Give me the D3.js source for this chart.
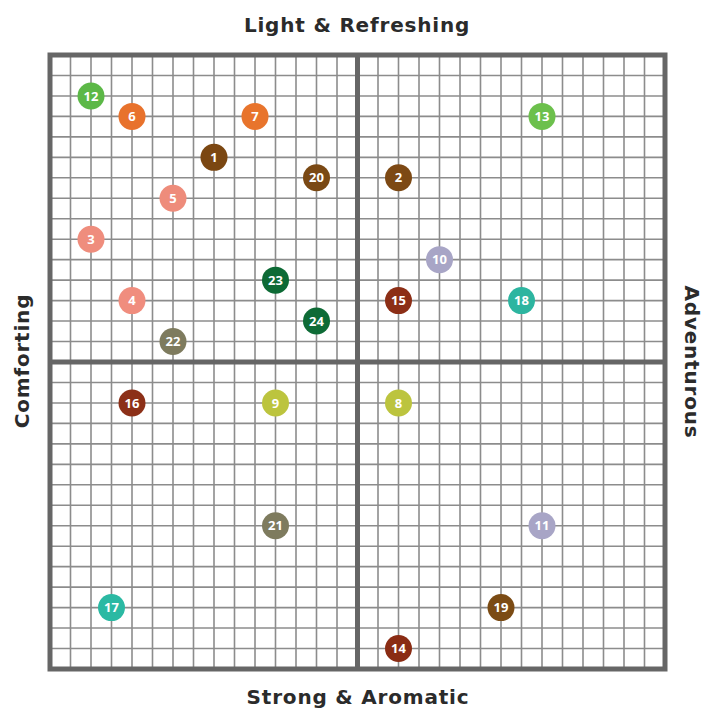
<!DOCTYPE html>
<html>
<head>
<meta charset="utf-8">
<script src="https://cdn.jsdelivr.net/npm/d3@7"></script>
<style>
  body { margin: 0; background: #fff; }
  .label { font-family: "DejaVu Sans", sans-serif; font-weight: 700; font-size: 20px; letter-spacing: 0.8px; fill: #2b2b2b; }
  .num { font-family: "Open Sans", sans-serif; font-weight: 700; font-size: 13px; fill: #fff; }
</style>
</head>
<body>
<div class="chart"></div>
<script>
const width = 707, height = 710;

// point ids and their grid positions (-15..15 each way)
const ids = ["1", "2", "3", "4", "5", "6", "7", "8", "9", "10", "11", "12",
             "13", "14", "15", "16", "17", "18", "19", "20", "21", "22", "23", "24"];
const xs = [-7, 2, -13, -11, -9, -11, -5, 2, -4, 4, 9, -13,
             9, 2, 2, -11, -12, 8, 7, -2, -4, -9, -4, -2];
const ys = [10, 9, 6, 3, 8, 12, 12, -2, -2, 5, -8, 13,
             12, -14, 3, -2, -12, 3, -12, 9, -8, 1, 4, 2];
const colors = ["#7b4712", "#7d4914", "#ef8d7d", "#f08d7e", "#ee8c7b", "#e8722c", "#e8742c", "#bcc43e",
                "#bcc43e", "#a8a5c6", "#a8a5c6", "#5cb847", "#6cc04c", "#8a2c14", "#8c2e16", "#8c3018",
                "#2bb9a3", "#2db5a0", "#7b4b14", "#7a4914", "#7e7b5e", "#7e7b5e", "#0d6a35", "#0e6b36"];

const gridTicks = d3.range(-15, 16);

let svg = d3.select('.chart')
  .append('svg')
  .attr('width', width)
  .attr('height', height);

let xScale = d3.scaleLinear().domain([-15, 15]).range([50, 665]);
let yScale = d3.scaleLinear().domain([-15, 15]).range([669, 55]);

// thin grid
svg.append('g')
  .selectAll('line')
  .data(gridTicks)
  .enter()
  .append('line')
  .attr('x1', d => xScale(d)).attr('x2', d => xScale(d))
  .attr('y1', yScale(-15)).attr('y2', yScale(15))
  .attr('stroke', '#8c8c8c')
  .attr('stroke-width', 1.6);

svg.append('g')
  .selectAll('line')
  .data(gridTicks)
  .enter()
  .append('line')
  .attr('y1', d => yScale(d)).attr('y2', d => yScale(d))
  .attr('x1', xScale(-15)).attr('x2', xScale(15))
  .attr('stroke', '#8c8c8c')
  .attr('stroke-width', 1.6);

// quadrant dividers + frame
svg.append('line')
  .attr('x1', xScale(0)).attr('x2', xScale(0))
  .attr('y1', yScale(-15)).attr('y2', yScale(15))
  .attr('stroke', '#666').attr('stroke-width', 5);
svg.append('line')
  .attr('y1', yScale(0)).attr('y2', yScale(0))
  .attr('x1', xScale(-15)).attr('x2', xScale(15))
  .attr('stroke', '#666').attr('stroke-width', 5);
svg.append('rect')
  .attr('x', xScale(-15)).attr('y', yScale(15))
  .attr('width', xScale(15) - xScale(-15))
  .attr('height', yScale(-15) - yScale(15))
  .attr('fill', 'none')
  .attr('stroke', '#666').attr('stroke-width', 5);

// points
let pts = svg.append('g')
  .selectAll('g')
  .data(ids)
  .enter()
  .append('g')
  .attr('transform', (d, i) => "translate(" + xScale(xs[i]) + "," + yScale(ys[i]) + ")");

pts.append('circle')
  .attr('r', 13.5)
  .attr('fill', (d, i) => colors[i]);

pts.append('text')
  .attr('class', 'num')
  .attr('text-anchor', 'middle')
  .attr('dy', '0.36em')
  .text(d => d);

// axis labels
svg.append('text')
  .attr('class', 'label')
  .attr('x', 357).attr('y', 32)
  .attr('text-anchor', 'middle')
  .text('Light & Refreshing');

svg.append('text')
  .attr('class', 'label')
  .attr('x', 358).attr('y', 704)
  .attr('text-anchor', 'middle')
  .text('Strong & Aromatic');

svg.append('text')
  .attr('class', 'label')
  .attr('transform', 'translate(29,361) rotate(-90)')
  .attr('text-anchor', 'middle')
  .text('Comforting');

svg.append('text')
  .attr('class', 'label')
  .attr('transform', 'translate(685,362) rotate(90)')
  .attr('text-anchor', 'middle')
  .text('Adventurous');
</script>
</body>
</html>
